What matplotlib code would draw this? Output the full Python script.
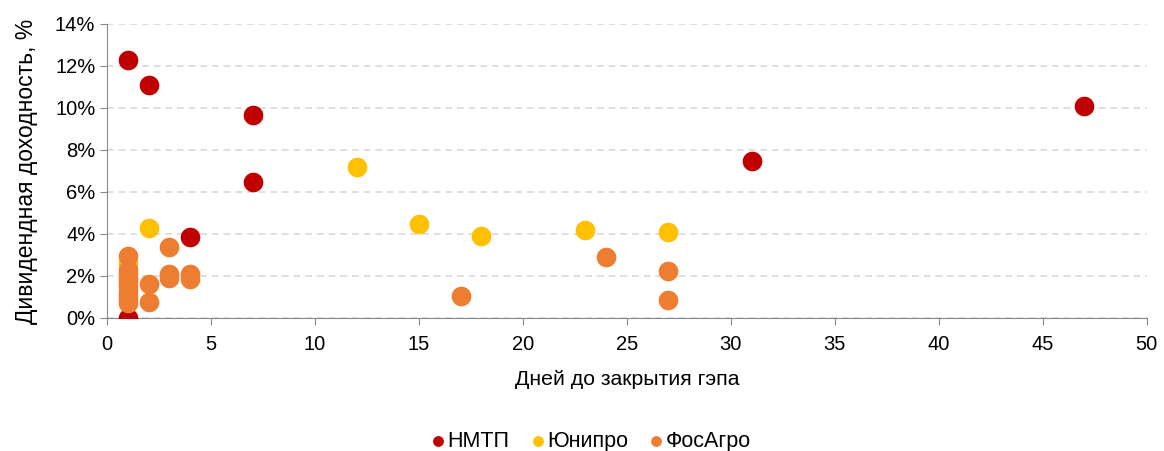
import matplotlib
matplotlib.use('Agg')
import matplotlib.pyplot as plt
from matplotlib.ticker import FuncFormatter

plt.rcParams['font.family'] = ['Liberation Sans', 'DejaVu Sans']

# НМТП
nmtp_x = [1, 1, 2, 4, 7, 7, 31, 47]
nmtp_y = [0.0, 12.3, 11.1, 3.85, 9.65, 6.45, 7.45, 10.1]
# Юнипро
unipro_x = [1, 2, 12, 15, 18, 23, 27]
unipro_y = [2.6, 4.3, 7.2, 4.45, 3.9, 4.2, 4.1]
# ФосАгро
fos_x = [1, 1, 1, 1, 1, 1, 1, 1, 1, 1, 2, 2, 3, 3, 3, 4, 4, 17, 24, 27, 27]
fos_y = [2.95, 2.3, 2.1, 1.9, 1.7, 1.5, 1.3, 1.1, 0.9, 0.7, 1.6, 0.75,
         3.4, 2.1, 1.9, 2.1, 1.85, 1.05, 2.9, 2.25, 0.85]

fig = plt.figure(figsize=(11.64, 4.51), dpi=100)
ax = fig.add_axes([0.092, 0.295, 0.893, 0.652])

s = 200
ax.scatter(nmtp_x, nmtp_y, s=s, color='#C00000', label='НМТП', zorder=3, linewidths=0)
ax.scatter(unipro_x, unipro_y, s=s, color='#FFC000', label='Юнипро', zorder=3, linewidths=0)
ax.scatter(fos_x, fos_y, s=s, color='#ED7D31', label='ФосАгро', zorder=4, linewidths=0)

ax.set_xlim(0, 50)
ax.set_ylim(0, 14)
ax.set_xticks(range(0, 51, 5))
ax.set_yticks(range(0, 15, 2))
ax.yaxis.set_major_formatter(FuncFormatter(lambda v, p: '%d%%' % v))
ax.yaxis.grid(True, color='#D9D9D9', linestyle=(0, (4, 3)), linewidth=1.2, zorder=0)
ax.set_axisbelow(True)

for side in ['top', 'right']:
    ax.spines[side].set_visible(False)
for side in ['left', 'bottom']:
    ax.spines[side].set_color('#898989')
ax.tick_params(axis='both', colors='#898989', labelcolor='black', labelsize=14.5, length=5)
ax.tick_params(axis='x', pad=7)

ax.set_xlabel('Дней до закрытия гэпа', fontsize=15.3, labelpad=12)
ax.set_ylabel('Дивидендная доходность, %', fontsize=16.5, labelpad=12)

fig.legend(loc='lower center', bbox_to_anchor=(0.507, -0.045), ncol=3, frameon=False,
           fontsize=15.5, markerscale=0.55, handlelength=0.8, handletextpad=0.05,
           columnspacing=0.9)

fig.savefig('out.png', dpi=100)
